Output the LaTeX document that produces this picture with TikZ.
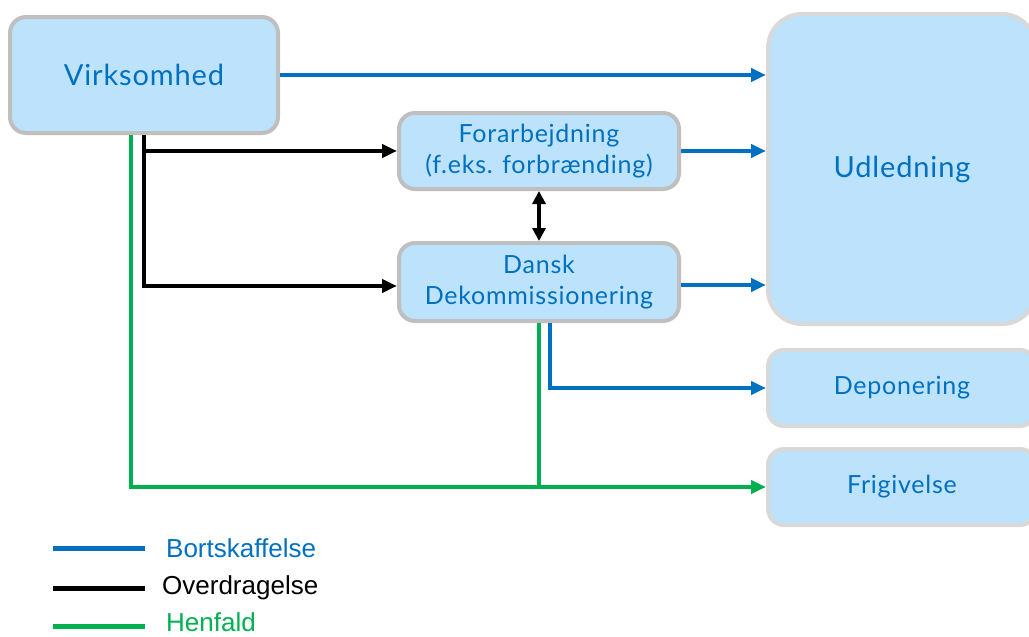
\documentclass[tikz,border=0pt]{standalone}
\usepackage{fontspec}
\setmainfont[LetterSpace=3]{Lato}
\newfontfamily\legfont{Liberation Sans}
\usetikzlibrary{arrows.meta}
\definecolor{bl}{HTML}{0070C0}
\definecolor{bfill}{HTML}{BDE2FB}
\definecolor{gr}{HTML}{00B050}
\definecolor{gA}{HTML}{BFBFBF}
\definecolor{gB}{HTML}{D9D9D9}
\tikzset{
  box/.style={draw=gA, line width=4pt, fill=bfill, rounded corners=16pt, inner sep=0pt, align=center, text=bl, font=\fontsize{25}{31}\selectfont},
  rbox/.style={box, draw=gB},
  conn/.style={line width=4pt, -{Triangle[length=15pt,width=13pt]}},
  blue/.style={conn, draw=bl},
  blk/.style={conn, draw=black},
  grn/.style={conn, draw=gr},
  legline/.style={line width=5pt},
  legtext/.style={anchor=west, font=\legfont\fontsize{26}{30}\selectfont, inner sep=0pt}
}
\begin{document}
\begin{tikzpicture}[x=1pt,y=-1pt]
\useasboundingbox (0,0) rectangle (1029,637);
\node[box, minimum width=268pt, minimum height=116pt, font=\fontsize{29}{34}\selectfont] (virk) at (144,75) {Virksomhed};
\node[box, minimum width=280pt, minimum height=76pt] (forarb) at (539,151) {Forarbejdning\\(f.eks. forbrænding)};
\node[box, minimum width=280pt, minimum height=78pt] (dansk) at (539,282) {Dansk\\Dekommissionering};
\node[rbox, minimum width=268pt, minimum height=310pt, rounded corners=34pt, font=\fontsize{29}{34}\selectfont] (udl) at (902,169) {Udledning};
\node[rbox, minimum width=268pt, minimum height=76pt] (depon) at (902,388) {Deponering};
\node[rbox, minimum width=268pt, minimum height=76pt] (frig) at (902,487) {Frigivelse};

% blue
\draw[blue] (virk.east) -- (virk.east -| udl.west);
\draw[blue] (forarb.east) -- (forarb.east -| udl.west);
\draw[blue] ([yshift=-3pt]dansk.east) -- ([yshift=-3pt]dansk.east -| udl.west);
\draw[blue] (dansk.south) ++(11,0) |- (depon.west);
% black
\draw[blk] (virk.south) |- ([yshift=-4pt]dansk.west);
\draw[blk] (virk.south |- forarb.west) -- (forarb.west);
\draw[line width=4pt, {Triangle[length=13pt,width=13pt]}-{Triangle[length=13pt,width=13pt]}] (forarb.south) -- (dansk.north);
% green
\draw[grn] (virk.south) ++(-13,0) |- (frig.west);
\draw[line width=4pt, draw=gr] (dansk.south) -- (dansk.south |- frig.west);

% legend
\draw[legline, bl] (53,548) -- (145,548);
\draw[legline, black] (53,588) -- (145,588);
\draw[legline, gr] (53,626) -- (145,626);
\node[legtext, text=bl] (l1) at (166,548) {Bortskaffelse};
\node[legtext, text=black] (l2) at (162,588) {Overdragelse};
\node[legtext, text=gr] (l3) at (166,622) {Henfald};
\end{tikzpicture}
\end{document}
